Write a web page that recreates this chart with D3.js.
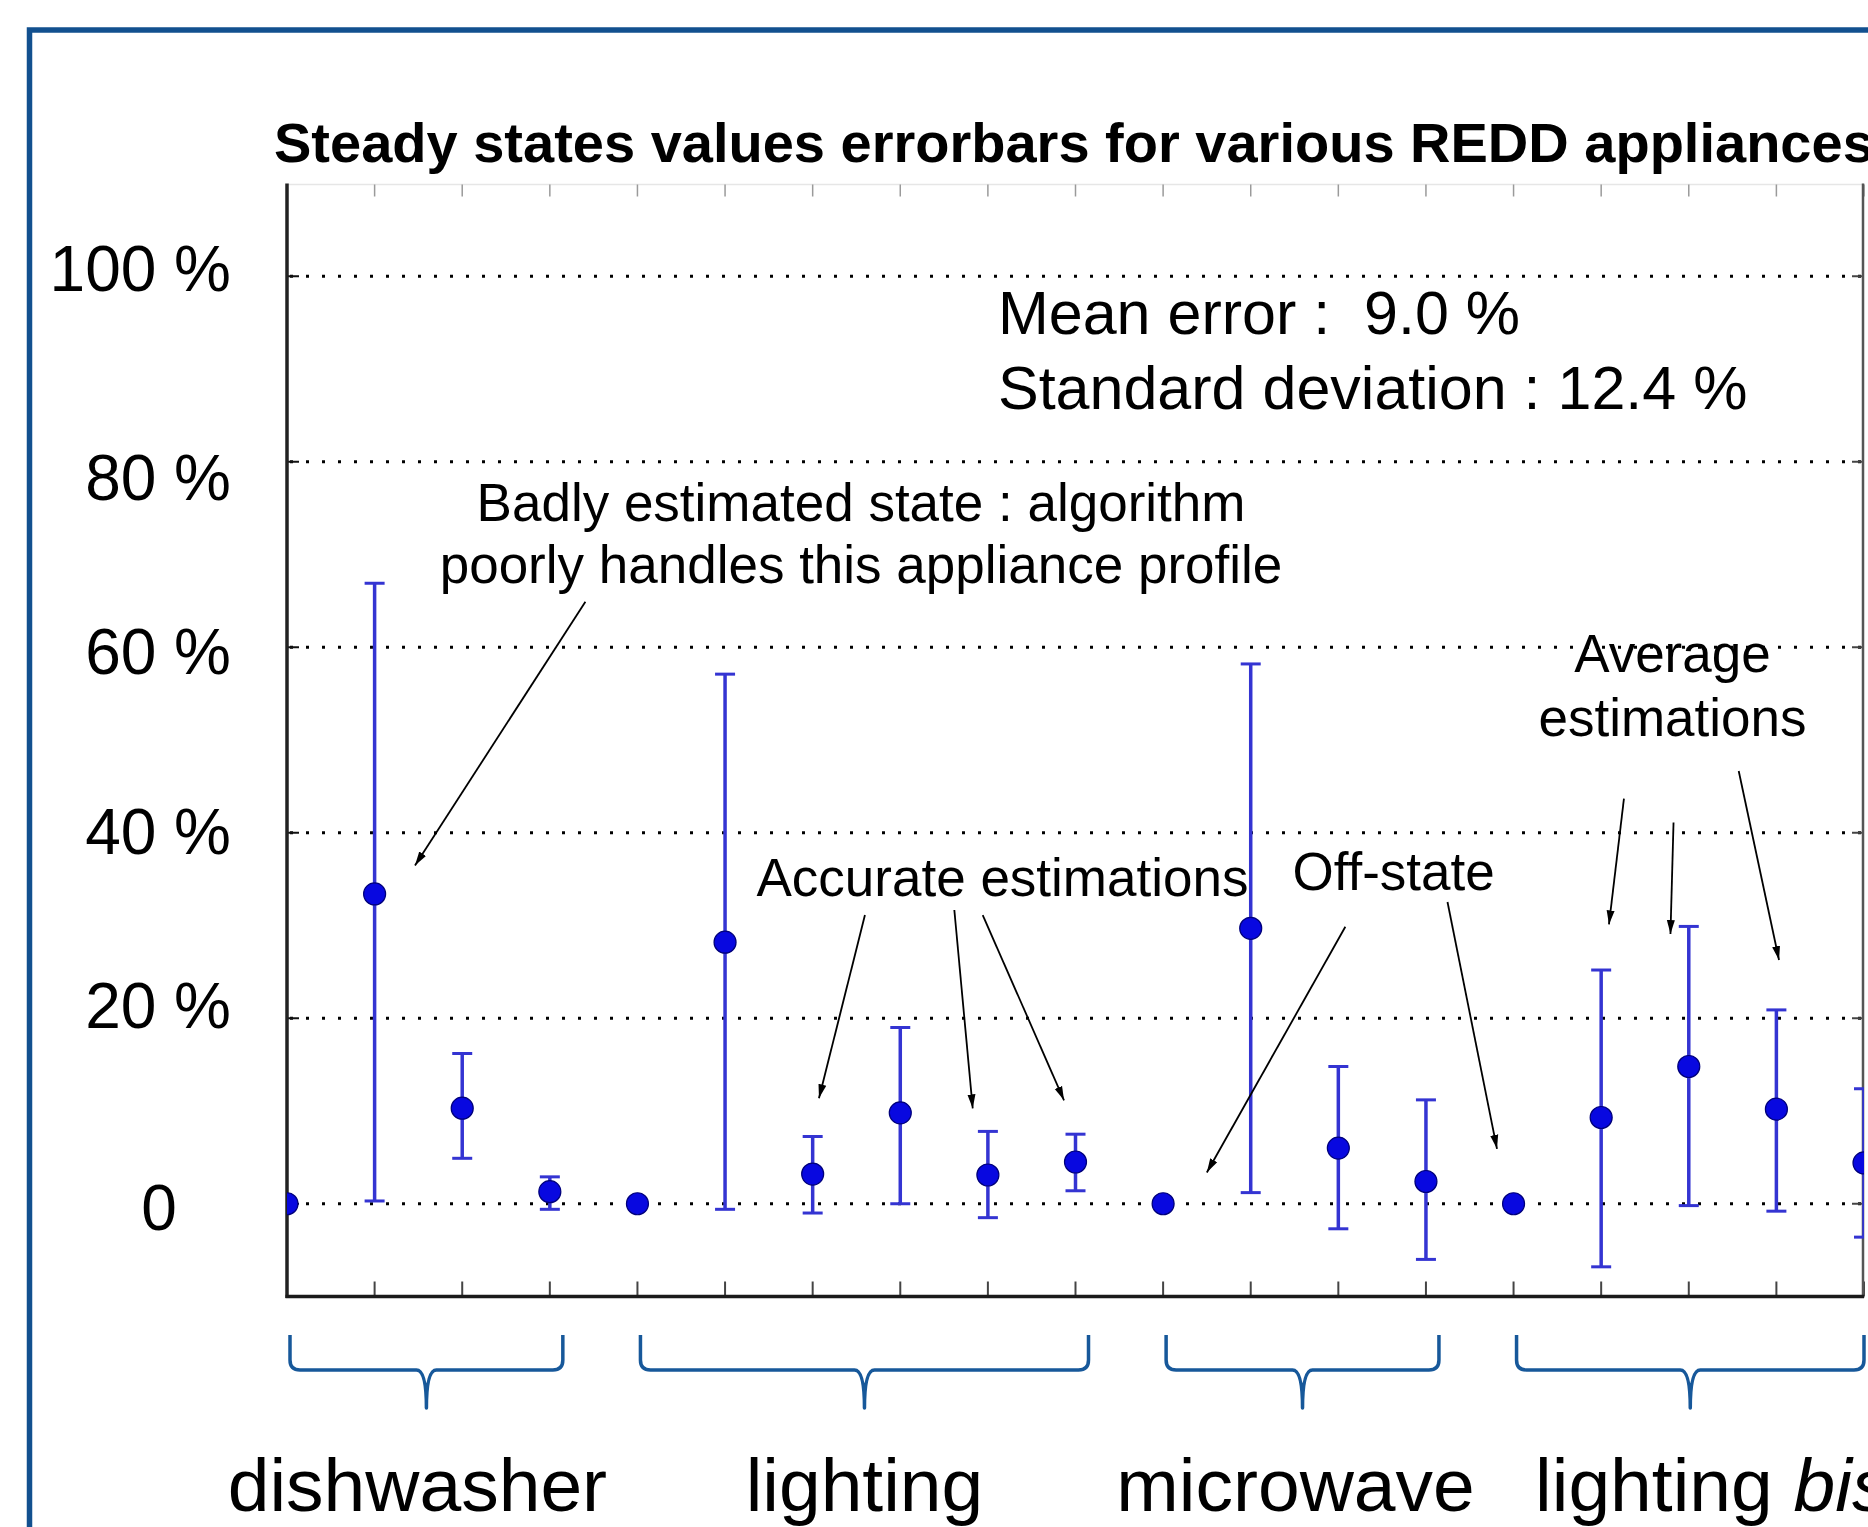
<!DOCTYPE html>
<html><head><meta charset="utf-8">
<script src="https://cdn.jsdelivr.net/npm/d3@7"></script>
<style>
html,body{margin:0;padding:0;background:#fff;}
svg{display:block;font-family:"Liberation Sans",Arial,Helvetica,sans-serif;}
text{white-space:pre;}
</style></head><body>
<svg id="chart" width="1868" height="1527"></svg>
<script>
// ---------------- data ----------------
const stateIndex  = [1,2,3,4,5,6,7,8,9,10,11,12,13,14,15,16,17,18,19];
const means       = [0, 33.4, 10.3, 1.3, 0, 28.2, 3.2, 9.8, 3.1, 4.5, 0, 29.7, 6.0, 2.4, 0, 9.3, 14.8, 10.2, 4.4];
const upperBounds = [0, 66.9, 16.2, 2.9, 0, 57.1, 7.25, 19.0, 7.8, 7.5, 0, 58.2, 14.8, 11.2, 0, 25.2, 29.9, 20.9, 12.4];
const lowerBounds = [0, 0.3, 4.9, -0.6, 0, -0.6, -1.0, 0, -1.5, 1.4, 0, 1.2, -2.7, -6.0, 0, -6.8, -0.2, -0.8, -3.6];

const yTickValues = [0, 20, 40, 60, 80, 100];
const yTickLabels = ["0", "20 %", "40 %", "60 %", "80 %", "100 %"];

const groupNames = ["dishwasher", "lighting", "microwave", "lighting"];
const groupSuffix = ["", "", "", "bis"];
const groupFirst = [1, 5, 11, 15];
const groupLast  = [4, 10, 14, 19];

const titleText = "Steady states values errorbars for various REDD appliances";
const statsLines = ["Mean error :  9.0 %", "Standard deviation : 12.4 %"];
const badLines = ["Badly estimated state : algorithm", "poorly handles this appliance profile"];
const accurateLines = ["Accurate estimations"];
const offLines = ["Off-state"];
const averageLines = ["Average", "estimations"];

// ---------------- layout ----------------
const W = 1868, H = 1527;
const plot = {left: 287, right: 1864, top: 183.5, bottom: 1296.5};
const x = d3.scaleLinear().domain([1, 19]).range([plot.left, plot.right]);
const y = d3.scaleLinear().domain([-10, 110]).range([plot.bottom, plot.top]);
const tickLabelShift = [3, -14, -2, 3, 15, -9]; // hand-placed label jitter in the reference (px)

const svg = d3.select("#chart");
svg.append("rect").attr("width", W).attr("height", H).attr("fill", "#fff");

// blue frame
svg.append("rect").attr("x", 29.5).attr("y", 30).attr("width", 1900).attr("height", 1600)
  .attr("fill", "none").attr("stroke", "#12508f").attr("stroke-width", 5.5);

// defs
const defs = svg.append("defs");
defs.append("clipPath").attr("id", "plotClip").append("rect")
  .attr("x", plot.left).attr("y", plot.top)
  .attr("width", plot.right - plot.left).attr("height", plot.bottom - plot.top);
defs.append("marker").attr("id", "arrow").attr("markerUnits", "userSpaceOnUse")
  .attr("markerWidth", 16).attr("markerHeight", 10).attr("refX", 14).attr("refY", 5)
  .attr("orient", "auto")
  .append("path").attr("d", "M0,1 L14,5 L0,9 Z").attr("fill", "#000");

// title
svg.append("text").attr("x", 274).attr("y", 162).attr("font-size", 56).attr("font-weight", "bold")
  .attr("fill", "#000").text(titleText);

// top axis (faint)
svg.append("line").attr("x1", plot.left).attr("x2", plot.right).attr("y1", plot.top + 1).attr("y2", plot.top + 1)
  .attr("stroke", "#e6e6e6").attr("stroke-width", 1.5);
svg.append("g").selectAll("line").data(stateIndex.slice(1)).join("line")
  .attr("x1", d => x(d)).attr("x2", d => x(d)).attr("y1", plot.top + 1).attr("y2", plot.top + 13)
  .attr("stroke", "#9a9a9a").attr("stroke-width", 1.5);

// gridlines
svg.append("g").selectAll("line").data(yTickValues).join("line")
  .attr("x1", plot.left + 3).attr("x2", plot.right).attr("y1", d => y(d)).attr("y2", d => y(d))
  .attr("stroke", "#000").attr("stroke-width", 3).attr("stroke-dasharray", "3,13");

// bottom ticks
svg.append("g").selectAll("line").data(stateIndex.slice(1)).join("line")
  .attr("x1", d => x(d)).attr("x2", d => x(d)).attr("y1", plot.bottom).attr("y2", plot.bottom - 15)
  .attr("stroke", "#444").attr("stroke-width", 2);

// left / right axis ticks
svg.append("g").selectAll("line").data(yTickValues).join("line")
  .attr("x1", plot.left).attr("x2", plot.left + 12).attr("y1", d => y(d)).attr("y2", d => y(d))
  .attr("stroke", "#111").attr("stroke-width", 2);
svg.append("g").selectAll("line").data(yTickValues).join("line")
  .attr("x1", plot.right).attr("x2", plot.right - 12).attr("y1", d => y(d)).attr("y2", d => y(d))
  .attr("stroke", "#444").attr("stroke-width", 2);

// axes lines
svg.append("line").attr("x1", plot.left).attr("x2", plot.left).attr("y1", plot.top).attr("y2", plot.bottom + 1.5)
  .attr("stroke", "#222").attr("stroke-width", 3.5);
svg.append("line").attr("x1", plot.right - 1).attr("x2", plot.right - 1).attr("y1", plot.top).attr("y2", plot.bottom + 1.5)
  .attr("stroke", "#555").attr("stroke-width", 2.5);
svg.append("line").attr("x1", plot.left - 1.5).attr("x2", plot.right).attr("y1", plot.bottom).attr("y2", plot.bottom)
  .attr("stroke", "#1a1a1a").attr("stroke-width", 3.5);

// y tick labels via d3 axis
const yAxis = d3.axisLeft(y).tickValues(yTickValues).tickSize(0).tickPadding(0)
  .tickFormat((d, i) => yTickLabels[i]);
const yg = svg.append("g").attr("transform", "translate(231,0)").call(yAxis);
yg.select(".domain").remove();
yg.selectAll("text").attr("font-size", 64).attr("font-family", "'Liberation Sans',Arial,sans-serif")
  .attr("fill", "#000").attr("dy", "0.36em")
  .attr("y", (d, i) => tickLabelShift[i]);
yg.selectAll(".tick").filter(d => d === 0).select("text").attr("text-anchor", "middle").attr("x", -72);

// errorbars + points
const pts = stateIndex.map((s, i) => ({s, m: means[i], hi: upperBounds[i], lo: lowerBounds[i]}));
const gData = svg.append("g").attr("clip-path", "url(#plotClip)");
const eb = pts.filter(p => p.hi !== p.lo);
const barColor = "#3434d2";
gData.selectAll(".ebv").data(eb).join("line").attr("class", "ebv")
  .attr("x1", p => x(p.s)).attr("x2", p => x(p.s)).attr("y1", p => y(p.lo)).attr("y2", p => y(p.hi))
  .attr("stroke", barColor).attr("stroke-width", 3.5);
gData.selectAll(".ebt").data(eb).join("line").attr("class", "ebt")
  .attr("x1", p => x(p.s) - 10).attr("x2", p => x(p.s) + 10).attr("y1", p => y(p.hi)).attr("y2", p => y(p.hi))
  .attr("stroke", barColor).attr("stroke-width", 3);
gData.selectAll(".ebb").data(eb).join("line").attr("class", "ebb")
  .attr("x1", p => x(p.s) - 10).attr("x2", p => x(p.s) + 10).attr("y1", p => y(p.lo)).attr("y2", p => y(p.lo))
  .attr("stroke", barColor).attr("stroke-width", 3);
gData.selectAll("circle").data(pts).join("circle")
  .attr("cx", p => x(p.s)).attr("cy", p => y(p.m)).attr("r", 11)
  .attr("fill", "#0808e0").attr("stroke", "#00007a").attr("stroke-width", 1.2);

// annotations (positions in data units)
function textBlock(lines, xd, yd, lineGap, size, anchor) {
  const t = svg.append("text").attr("font-size", size).attr("fill", "#000").attr("text-anchor", anchor);
  lines.forEach((l, i) => t.append("tspan").attr("x", x(xd)).attr("y", y(yd) + i * lineGap).text(l));
}
textBlock(statsLines, 9.115, 93.8, 75, 61, "start");
textBlock(badLines, 7.552, 73.66, 62, 53, "middle");
textBlock(accurateLines, 6.359, 33.18, 0, 53, "start");
textBlock(offLines, 12.477, 33.83, 0, 53, "start");
textBlock(averageLines, 16.814, 57.33, 64, 53, "middle");

const arrows = [
  [4.406, 64.91, 2.461, 36.47],
  [7.597, 31.13, 7.072, 11.37],
  [8.617, 31.67, 8.827, 10.28],
  [8.941, 31.13, 9.869, 11.15],
  [13.080, 29.86, 11.499, 3.37],
  [14.246, 32.53, 14.811, 5.92],
  [16.260, 43.69, 16.089, 30.11],
  [16.826, 41.11, 16.791, 29.08],
  [17.570, 46.66, 18.030, 26.28]
];
svg.append("g").selectAll("line").data(arrows).join("line")
  .attr("x1", a => x(a[0])).attr("y1", a => y(a[1])).attr("x2", a => x(a[2])).attr("y2", a => y(a[3]))
  .attr("stroke", "#000").attr("stroke-width", 1.8).attr("marker-end", "url(#arrow)");

// braces and group labels
const braceTop = 1335, braceBar = 1370, braceTip = 1408;
const braceColor = "#17589a";
const labelDx = [-9, 0, -7, 22];
groupNames.forEach((name, i) => {
  const x0 = x(groupFirst[i]) + 3;
  const x1 = Math.min(x(groupLast[i]) + 13, plot.right);
  const xm = (x0 + x1) / 2;
  const r = 10;
  const d = `M${x0},${braceTop} L${x0},${braceBar - r} Q${x0},${braceBar} ${x0 + r},${braceBar}` +
            ` L${xm - r},${braceBar} Q${xm},${braceBar} ${xm},${braceTip}` +
            ` Q${xm},${braceBar} ${xm + r},${braceBar} L${x1 - r},${braceBar}` +
            ` Q${x1},${braceBar} ${x1},${braceBar - r} L${x1},${braceTop}`;
  svg.append("path").attr("d", d).attr("fill", "none").attr("stroke", braceColor)
    .attr("stroke-width", 3.5).attr("stroke-linejoin", "round");
  const t = svg.append("text").attr("x", xm + labelDx[i]).attr("y", 1511).attr("font-size", 75)
    .attr("text-anchor", "middle").attr("fill", "#000");
  t.append("tspan").text(name);
  if (groupSuffix[i]) t.append("tspan").attr("font-style", "italic").text(" " + groupSuffix[i]);
});
</script>
</body></html>
